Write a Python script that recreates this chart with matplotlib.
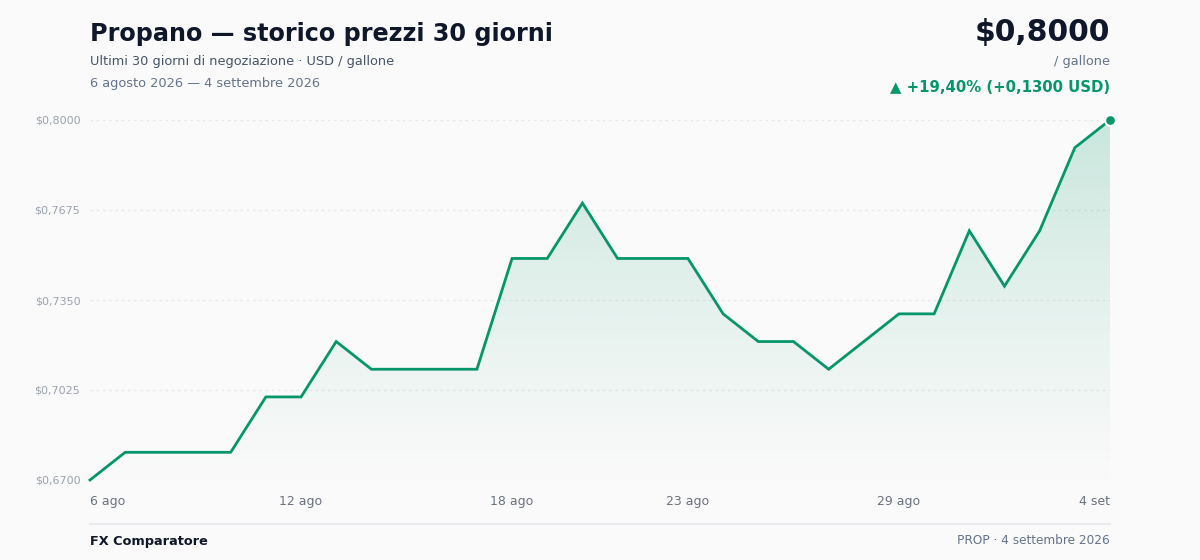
import matplotlib
matplotlib.use('Agg')
import matplotlib.pyplot as plt
import numpy as np
from matplotlib.patches import Polygon

# data
days = list(range(30))
prices = [0.670, 0.680, 0.680, 0.680, 0.680, 0.700, 0.700, 0.720, 0.710, 0.710,
          0.710, 0.710, 0.750, 0.750, 0.770, 0.750, 0.750, 0.750, 0.730, 0.720,
          0.720, 0.710, 0.720, 0.730, 0.730, 0.760, 0.740, 0.760, 0.790, 0.800]
tick_days = [0, 6, 12, 17, 23, 29]
tick_labels = ['6 ago', '12 ago', '18 ago', '23 ago', '29 ago', '4 set']
y_ticks = [0.6700, 0.7025, 0.7350, 0.7675, 0.8000]

green = '#059669'
bg = '#fafafa'

fig = plt.figure(figsize=(12, 5.6), dpi=100, facecolor=bg)
ax = fig.add_axes([0.075, 80 / 560, 0.85, 360 / 560])
ax.set_facecolor(bg)

ymin, ymax = 0.67, 0.80

# gradient fill under the line
grad = np.linspace(0, 1, 256).reshape(-1, 1)
rgba = np.zeros((256, 1, 4))
rgba[:, :, 0] = 0x05 / 255
rgba[:, :, 1] = 0x96 / 255
rgba[:, :, 2] = 0x69 / 255
rgba[:, :, 3] = 0.20 * grad ** 1.2
img = ax.imshow(rgba, extent=[0, 29, ymin - 0.006, ymax], origin='lower',
                aspect='auto', zorder=1)
verts = [(0, ymin - 0.006)] + list(zip(days, prices)) + [(29, ymin - 0.006)]
poly = Polygon(verts, closed=True, facecolor='none', edgecolor='none')
ax.add_patch(poly)
img.set_clip_path(poly)
ax.set_ylim(ymin, ymax)
ax.set_xlim(0, 29)

for yv in y_ticks:
    ax.axhline(yv, color='#e5e7eb', lw=0.9, ls=(0, (2, 3)), zorder=0)

ax.plot(days, prices, color=green, lw=2, zorder=3, clip_on=False,
        solid_joinstyle='miter')
ax.scatter([days[-1]], [prices[-1]], s=60, color=green, edgecolor='white',
           linewidth=1.5, zorder=4, clip_on=False)

for s in ax.spines.values():
    s.set_visible(False)
ax.set_yticks(y_ticks)
ax.set_yticklabels(['$' + f'{v:.4f}'.replace('.', ',') for v in y_ticks],
                   fontsize=8, color='#9ca3af')
ax.tick_params(axis='y', length=0, pad=7)
ax.set_xticks(tick_days)
ax.set_xticklabels(tick_labels, fontsize=9, color='#6b7280')
ax.tick_params(axis='x', length=0, pad=11)
xl = ax.get_xticklabels()
xl[0].set_horizontalalignment('left')
xl[-1].set_horizontalalignment('right')

# header
fig.text(90 / 1200, 1 - 34 / 560, 'Propano — storico prezzi 30 giorni',
         fontsize=17.2, fontweight='bold', color='#0f172a', va='center')
fig.text(90 / 1200, 1 - 61 / 560, 'Ultimi 30 giorni di negoziazione · USD / gallone',
         fontsize=9.3, color='#475569', va='center')
fig.text(90 / 1200, 1 - 83 / 560, '6 agosto 2026 — 4 settembre 2026',
         fontsize=9.3, color='#64748b', va='center')
fig.text(1110 / 1200, 1 - 32 / 560, '$0,8000', fontsize=21.5, fontweight='bold',
         color='#0f172a', va='center', ha='right')
fig.text(1110 / 1200, 1 - 61 / 560, '/ gallone', fontsize=9.3, color='#64748b',
         va='center', ha='right')
fig.text(1110 / 1200, 1 - 87 / 560, '▲ +19,40% (+0,1300 USD)', fontsize=10.7,
         fontweight='bold', color=green, va='center', ha='right')

# footer
fig.add_artist(plt.Line2D([90 / 1200, 1110 / 1200], [1 - 524 / 560, 1 - 524 / 560],
                          color='#e5e7eb', lw=1.2))
fig.text(90 / 1200, 1 - 541 / 560, 'FX Comparatore', fontsize=9.3,
         fontweight='bold', color='#0f172a', va='center')
fig.text(1110 / 1200, 1 - 541 / 560, 'PROP · 4 settembre 2026', fontsize=8.7,
         color='#64748b', va='center', ha='right')

fig.savefig('out.png', dpi=100, facecolor=bg)
